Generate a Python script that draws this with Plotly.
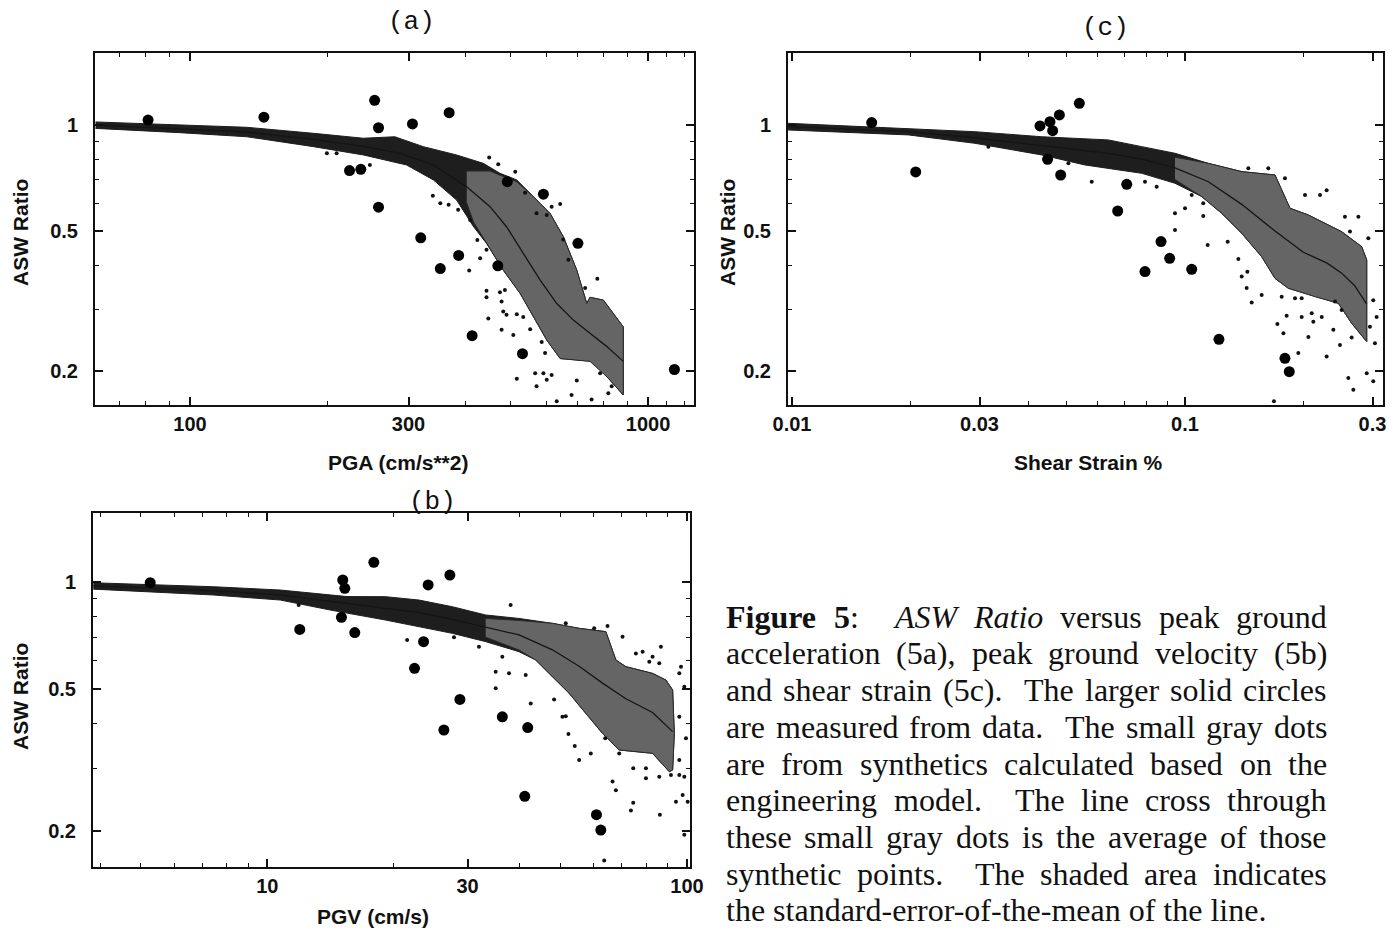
import re
import plotly.graph_objects as go

# ------------------------------------------------------------------ DATA
# Panel (a): ASW ratio vs PGA (cm/s**2)
pga_data_x = [81, 145, 253, 258, 223, 236, 258, 306, 368, 319, 352, 386, 493, 591, 470, 703, 413, 532, 1142]
pga_data_y = [1.033, 1.052, 1.175, 0.982, 0.742, 0.748, 0.584, 1.007, 1.084, 0.478, 0.391, 0.426, 0.690, 0.636, 0.398, 0.461, 0.252, 0.224, 0.202]

pga_syn_x = [339, 352, 367, 385, 409, 424, 444, 430, 407, 444, 444, 475, 487, 448, 479, 483, 491, 479, 508, 517,
             534, 553, 586, 596, 591, 567, 517, 571, 601, 616, 632, 681, 699, 753, 819, 833, 729, 775, 670, 653,
             643, 616, 601, 571, 539, 513, 471, 450, 786, 199, 209, 247]
pga_syn_y = [0.629, 0.599, 0.593, 0.574, 0.537, 0.471, 0.442, 0.418, 0.386, 0.338, 0.324, 0.335, 0.340, 0.282, 0.315,
             0.295, 0.289, 0.262, 0.253, 0.290, 0.285, 0.263, 0.242, 0.225, 0.197, 0.197, 0.190, 0.181, 0.189, 0.195,
             0.164, 0.171, 0.188, 0.166, 0.173, 0.181, 0.344, 0.366, 0.414, 0.473, 0.596, 0.586, 0.555, 0.561, 0.642,
             0.737, 0.773, 0.809, 0.197, 0.831, 0.831, 0.770]

pga_cloud_up_x = [62.2, 95, 133, 186, 239, 280, 323, 382, 437, 475, 517, 562, 611, 653, 699, 735, 747, 799, 883]
pga_cloud_up_y = [1.02, 1.0, 0.985, 0.947, 0.917, 0.926, 0.868, 0.822, 0.778, 0.729, 0.698, 0.626, 0.561, 0.482, 0.387, 0.311, 0.324, 0.318, 0.267]
pga_cloud_lo_x = [883, 812, 760, 699, 643, 601, 562, 526, 483, 444, 416, 382, 340, 297, 239, 186, 133, 95, 62.2]
pga_cloud_lo_y = [0.171, 0.193, 0.213, 0.215, 0.217, 0.245, 0.285, 0.332, 0.387, 0.461, 0.514, 0.612, 0.698, 0.770, 0.822, 0.868, 0.926, 0.951, 0.978]

pga_band_x = [402, 452, 475, 517, 562, 611, 653, 699, 735, 747, 799, 883, 883, 812, 747, 643, 601, 562, 526, 483, 444, 416, 402]
pga_band_y = [0.74, 0.74, 0.72, 0.69, 0.626, 0.561, 0.482, 0.387, 0.311, 0.324, 0.318, 0.267, 0.171, 0.193, 0.213, 0.217, 0.245, 0.285, 0.332, 0.387, 0.461, 0.53, 0.60]

pga_mean_x = [62.2, 95, 133, 186, 239, 287, 340, 402, 452, 491, 534, 581, 632, 687, 747, 812, 883]
pga_mean_y = [1.0, 0.975, 0.955, 0.91, 0.87, 0.83, 0.77, 0.668, 0.586, 0.514, 0.432, 0.363, 0.311, 0.279, 0.256, 0.235, 0.213]

# Panel (b): ASW ratio vs PGV (cm/s)
pgv_data_x = [5.26, 15.13, 15.3, 17.94, 15.02, 11.95, 16.16, 24.17, 27.23, 23.57, 22.43, 28.77, 26.35, 36.31, 41.74, 41.06, 60.86, 62.33]
pgv_data_y = [0.996, 1.013, 0.96, 1.136, 0.796, 0.736, 0.721, 0.981, 1.046, 0.68, 0.572, 0.468, 0.384, 0.418, 0.390, 0.250, 0.222, 0.201]

pgv_syn_x = [21.54, 27.85, 31.94, 36.31, 35.01, 37.66, 41.28, 35.01, 42.43, 48.24, 50.49, 51.42, 52.19, 54.03, 55.34,
             59.0, 63.86, 68.95, 74.46, 79.84, 79.84, 85.9, 91.58, 95.87, 98.54, 95.87, 99.45, 95.87, 98.54, 95.87,
             96.76, 67.7, 66.47, 74.46, 73.51, 86.18, 94.13, 97.66, 100.4, 98.54, 63.5, 75.56, 78.4, 82.8, 86.67,
             85.9, 81.32, 70.22, 64.67, 60.1, 51.42, 38.01, 11.88]
pgv_syn_y = [0.687, 0.699, 0.658, 0.617, 0.56, 0.554, 0.548, 0.503, 0.456, 0.468, 0.418, 0.42, 0.374, 0.346, 0.316,
             0.33, 0.364, 0.33, 0.30, 0.30, 0.281, 0.284, 0.287, 0.287, 0.284, 0.316, 0.364, 0.418, 0.508, 0.554,
             0.578, 0.26, 0.275, 0.24, 0.228, 0.222, 0.2415, 0.252, 0.2415, 0.195, 0.165, 0.63, 0.637, 0.617, 0.658,
             0.591, 0.597, 0.702, 0.752, 0.741, 0.7655, 0.862, 0.862]

pgv_cloud_up_x = [3.85, 7.44, 10.74, 15.49, 19.12, 22.97, 27.59, 33.14, 39.8, 47.8, 55.34, 64.07, 67.7, 71.52, 82.8, 89.1, 92.43, 93.29, 92.43]
pgv_cloud_up_y = [0.995, 0.97, 0.9495, 0.91, 0.9096, 0.89, 0.8525, 0.808, 0.79, 0.7655, 0.741, 0.7254, 0.6038, 0.5783, 0.5537, 0.5303, 0.4972, 0.3757, 0.2964]
pgv_cloud_lo_x = [90.75, 82.8, 68.95, 62.9, 57.4, 52.4, 47.8, 43.61, 39.8, 33.14, 27.59, 22.97, 19.12, 14.14, 10.74, 7.44, 3.85]
pgv_cloud_lo_y = [0.2932, 0.3302, 0.3374, 0.3757, 0.4276, 0.4866, 0.542, 0.6038, 0.6372, 0.68, 0.7175, 0.749, 0.782, 0.834, 0.89, 0.9194, 0.955]

pgv_band_x = [33.14, 39.8, 47.8, 55.34, 64.07, 67.7, 71.52, 82.8, 89.1, 92.43, 93.29, 92.43, 90.75, 82.8, 68.95, 62.9, 57.4, 52.4, 47.8, 43.61, 39.8, 33.14]
pgv_band_y = [0.79, 0.78, 0.7655, 0.741, 0.7254, 0.6038, 0.5783, 0.5537, 0.5303, 0.4972, 0.3757, 0.2964, 0.2932, 0.3302, 0.3374, 0.3757, 0.4276, 0.4866, 0.542, 0.6038, 0.644, 0.70]

pgv_mean_x = [3.85, 7.44, 10.74, 15.49, 19.12, 22.97, 27.59, 33.14, 39.8, 47.8, 55.34, 62.9, 71.52, 82.8, 92.43]
pgv_mean_y = [0.975, 0.945, 0.92, 0.87, 0.845, 0.82, 0.785, 0.745, 0.71, 0.645, 0.58, 0.52, 0.47, 0.43, 0.38]

# Panel (c): ASW ratio vs shear strain %
ss_data_x = [0.01595, 0.02064, 0.04276, 0.04533, 0.0479, 0.05384, 0.04605, 0.0447, 0.04827, 0.07107, 0.06741, 0.08689, 0.0914, 0.0791, 0.104, 0.122, 0.1796, 0.1842]
ss_data_y = [1.016, 0.7355, 0.9935, 1.022, 1.068, 1.152, 0.9636, 0.799, 0.721, 0.6783, 0.5697, 0.4663, 0.418, 0.3832, 0.389, 0.246, 0.2174, 0.1992]

ss_syn_x = [0.0579, 0.0791, 0.0847, 0.0943, 0.100, 0.104, 0.1113, 0.1113, 0.0943, 0.1142, 0.1284, 0.1367, 0.1394, 0.1441,
            0.1435, 0.1478, 0.1567, 0.1762, 0.1718, 0.178, 0.1814, 0.1905, 0.1981, 0.1981, 0.2101, 0.2121, 0.2228, 0.206,
            0.1942, 0.2408, 0.2503, 0.2385, 0.2479, 0.2655, 0.2293, 0.2603, 0.2681, 0.29, 0.3043, 0.3013, 0.1684, 0.202,
            0.2206, 0.2293, 0.2629, 0.2552, 0.2761, 0.2927, 0.3013, 0.3073, 0.2955, 0.1449, 0.1629, 0.1796, 0.0316, 0.0505]
ss_syn_y = [0.690, 0.690, 0.668, 0.561, 0.580, 0.6325, 0.599, 0.551, 0.503, 0.456, 0.466, 0.416, 0.371, 0.383, 0.344,
            0.313, 0.329, 0.325, 0.272, 0.256, 0.287, 0.322, 0.322, 0.285, 0.292, 0.276, 0.285, 0.250, 0.225, 0.315,
            0.298, 0.262, 0.237, 0.249, 0.220, 0.191, 0.177, 0.197, 0.240, 0.187, 0.164, 0.6325, 0.6325, 0.653, 0.498,
            0.549, 0.549, 0.477, 0.318, 0.285, 0.267, 0.753, 0.753, 0.706, 0.868, 0.778]

ss_cloud_up_x = [0.00977, 0.0198, 0.0292, 0.0432, 0.0525, 0.0638, 0.0776, 0.0943, 0.1147, 0.1394, 0.1694, 0.185, 0.206, 0.2503, 0.2815, 0.29]
ss_cloud_up_y = [1.011, 0.978, 0.957, 0.926, 0.916, 0.907, 0.868, 0.831, 0.778, 0.737, 0.721, 0.58, 0.555, 0.4977, 0.4512, 0.4135]
ss_cloud_lo_x = [0.29, 0.2655, 0.2456, 0.2142, 0.1832, 0.1694, 0.1567, 0.1394, 0.124, 0.1103, 0.0943, 0.0776, 0.0638, 0.0556, 0.0432, 0.0292, 0.0198, 0.00977]
ss_cloud_lo_y = [0.2424, 0.2733, 0.3114, 0.3253, 0.3436, 0.3667, 0.4227, 0.4924, 0.561, 0.626, 0.683, 0.729, 0.7532, 0.77, 0.822, 0.887, 0.937, 0.968]

ss_band_x = [0.0943, 0.1147, 0.1394, 0.1694, 0.185, 0.206, 0.2503, 0.2815, 0.29, 0.29, 0.2655, 0.2456, 0.2142, 0.1832, 0.1694, 0.1567, 0.1394, 0.124, 0.1103, 0.0943]
ss_band_y = [0.81, 0.778, 0.737, 0.721, 0.58, 0.555, 0.4977, 0.4512, 0.4135, 0.2424, 0.2733, 0.3114, 0.3253, 0.3436, 0.3667, 0.4227, 0.4924, 0.561, 0.626, 0.70]

ss_mean_x = [0.00977, 0.0198, 0.0292, 0.0432, 0.0525, 0.0638, 0.0776, 0.0943, 0.1147, 0.1394, 0.1694, 0.2, 0.23, 0.25, 0.27, 0.29]
ss_mean_y = [0.99, 0.958, 0.92, 0.873, 0.85, 0.83, 0.80, 0.755, 0.69, 0.595, 0.50, 0.435, 0.405, 0.38, 0.35, 0.31]

# Tick labels
pga_ticks = [100, 300, 1000]
pga_ticktext = ["100", "300", "1000"]
pga_minor = [70, 80, 90, 200, 400, 500, 600, 700, 800, 900, 1100, 1200]
pgv_ticks = [10, 30, 100]
pgv_ticktext = ["10", "30", "100"]
pgv_minor = [4, 5, 6, 7, 8, 9, 20, 40, 50, 60, 70, 80, 90]
ss_ticks = [0.01, 0.03, 0.1, 0.3]
ss_ticktext = ["0.01", "0.03", "0.1", "0.3"]
ss_minor = [0.02, 0.04, 0.05, 0.06, 0.07, 0.08, 0.09, 0.2]
ratio_ticks = [0.2, 0.5, 1]
ratio_ticktext = ["0.2", "0.5", "1"]
ratio_minor = [0.3, 0.4, 0.6, 0.7, 0.8, 0.9]

caption_lines = [
    "<b>Figure</b> <b>5</b>:  <i>ASW</i> <i>Ratio</i> versus peak ground",
    "acceleration (5a), peak ground velocity (5b)",
    "and shear strain (5c).  The larger solid circles",
    "are measured from data.  The small gray dots",
    "are from synthetics calculated based on the",
    "engineering model.  The line cross through",
    "these small gray dots is the average of those",
    "synthetic points.  The shaded area indicates",
    "the standard-error-of-the-mean of the line.",
]

# ------------------------------------------------------------------ STYLE / LAYOUT
W, H = 1398, 936
INK = "#111111"
SANS = "Liberation Sans, Arial, sans-serif"
SERIF = "Liberation Serif, Times New Roman, serif"
MONO = "Liberation Mono, Courier New, monospace"


def px(x):
    return x / W


def py(y):
    return 1 - y / H


fig = go.Figure()


def add_panel(xa, ya, cup_x, cup_y, clo_x, clo_y, band_x, band_y, mean_x, mean_y, syn_x, syn_y, dat_x, dat_y):
    fig.add_trace(go.Scatter(x=cup_x + clo_x, y=cup_y + clo_y, xaxis=xa, yaxis=ya, mode="lines",
                             fill="toself", fillcolor="#1e1e1e", line=dict(width=1, color="#1e1e1e"),
                             hoverinfo="skip"))
    fig.add_trace(go.Scatter(x=band_x, y=band_y, xaxis=xa, yaxis=ya, mode="lines",
                             fill="toself", fillcolor="#656565", line=dict(width=1, color="#2a2a2a"),
                             hoverinfo="skip"))
    fig.add_trace(go.Scatter(x=mean_x, y=mean_y, xaxis=xa, yaxis=ya, mode="lines",
                             line=dict(width=1.3, color="#151515"), hoverinfo="skip"))
    fig.add_trace(go.Scatter(x=syn_x, y=syn_y, xaxis=xa, yaxis=ya, mode="markers",
                             marker=dict(size=4, color="#111111"), hoverinfo="skip"))
    fig.add_trace(go.Scatter(x=dat_x, y=dat_y, xaxis=xa, yaxis=ya, mode="markers",
                             marker=dict(size=11, color="#000000"), hoverinfo="skip"))


add_panel("x", "y", pga_cloud_up_x, pga_cloud_up_y, pga_cloud_lo_x, pga_cloud_lo_y, pga_band_x, pga_band_y,
          pga_mean_x, pga_mean_y, pga_syn_x, pga_syn_y, pga_data_x, pga_data_y)
add_panel("x2", "y2", ss_cloud_up_x, ss_cloud_up_y, ss_cloud_lo_x, ss_cloud_lo_y, ss_band_x, ss_band_y,
          ss_mean_x, ss_mean_y, ss_syn_x, ss_syn_y, ss_data_x, ss_data_y)
add_panel("x3", "y3", pgv_cloud_up_x, pgv_cloud_up_y, pgv_cloud_lo_x, pgv_cloud_lo_y, pgv_band_x, pgv_band_y,
          pgv_mean_x, pgv_mean_y, pgv_syn_x, pgv_syn_y, pgv_data_x, pgv_data_y)


def axis(domain, rng, tv, tt, minor, anchor, standoff):
    return dict(type="log", domain=domain, range=rng, anchor=anchor, automargin=False,
                tickmode="array", tickvals=tv, ticktext=tt,
                ticks="inside", ticklen=8, tickwidth=1.5, tickcolor=INK,
                showline=True, linewidth=2, linecolor=INK, mirror="ticks",
                showgrid=False, zeroline=False, ticklabelstandoff=standoff,
                tickfont=dict(family=SANS, size=20, color=INK, weight="bold"),
                minor=dict(tickmode="array", tickvals=minor, ticks="inside", ticklen=4,
                           tickwidth=1, tickcolor=INK, showgrid=False))


ya_dom = [py(405), py(53)]
yb_dom = [py(866.7), py(513.3)]
layout = dict(
    width=W, height=H, autosize=False,
    margin=dict(l=0, r=0, t=0, b=0, pad=0, autoexpand=False),
    paper_bgcolor="white", plot_bgcolor="white",
    showlegend=False, hovermode=False,
    xaxis=axis([px(95), px(694)], [1.7926, 3.1004], pga_ticks, pga_ticktext, pga_minor, "y", 0),
    yaxis=axis(ya_dom, [-0.7955, 0.2045], ratio_ticks, ratio_ticktext, ratio_minor, "x", 11),
    xaxis2=axis([px(788), px(1383)], [-2.0102, -0.4962], ss_ticks, ss_ticktext, ss_minor, "y2", 0),
    yaxis2=axis(ya_dom, [-0.7955, 0.2045], ratio_ticks, ratio_ticktext, ratio_minor, "x2", 11),
    xaxis3=axis([px(93), px(690)], [0.5847, 2.0072], pgv_ticks, pgv_ticktext, pgv_minor, "y3", 0),
    yaxis3=axis(yb_dom, [-0.7997, 0.193], ratio_ticks, ratio_ticktext, ratio_minor, "x3", 11),
)
fig.update_layout(**layout)

ann = []


def label(text, x, y, size, family=SANS, angle=0, xanchor="center"):
    ann.append(dict(text=text, x=px(x), y=py(y), xref="paper", yref="paper", showarrow=False,
                    xanchor=xanchor, yanchor="middle", textangle=angle,
                    font=dict(family=family, size=size, color=INK)))


label("(a)", 412, 22, 26, MONO)
label("(c)", 1105, 28, 26, MONO)
label("(b)", 432, 502, 26, MONO)
label("<b>ASW Ratio</b>", 20, 233, 21, angle=-90)
label("<b>ASW Ratio</b>", 727, 233, 21, angle=-90)
label("<b>ASW Ratio</b>", 20, 697, 21, angle=-90)
label("<b>PGA (cm/s**2)</b>", 398, 462, 21)
label("<b>Shear Strain %</b>", 1088, 462, 21)
label("<b>PGV (cm/s)</b>", 373, 916, 21)

# --- justified caption (Times metrics, 1/1000 em)
TR = {' ': 250, '(': 333, ')': 333, ',': 250, '-': 333, '.': 250, ':': 278, '%': 833,
      'A': 722, 'B': 667, 'C': 667, 'D': 722, 'E': 611, 'F': 556, 'G': 722, 'H': 722, 'I': 333, 'J': 389,
      'K': 722, 'L': 611, 'M': 889, 'N': 722, 'O': 722, 'P': 556, 'Q': 722, 'R': 667, 'S': 556, 'T': 611,
      'U': 722, 'V': 722, 'W': 944, 'X': 722, 'Y': 722, 'Z': 611,
      'a': 444, 'b': 500, 'c': 444, 'd': 500, 'e': 444, 'f': 333, 'g': 500, 'h': 500, 'i': 278, 'j': 278,
      'k': 500, 'l': 278, 'm': 778, 'n': 500, 'o': 500, 'p': 500, 'q': 500, 'r': 333, 's': 389, 't': 278,
      'u': 500, 'v': 500, 'w': 722, 'x': 500, 'y': 500, 'z': 444}
TB = {'F': 611, 'i': 278, 'g': 500, 'u': 556, 'r': 444, 'e': 444, ':': 333}
TI = {'A': 611, 'S': 500, 'W': 833, 'R': 611, 'a': 500, 't': 278, 'i': 278, 'o': 500}


def word_width(w, size):
    tot = 0
    for m in re.finditer(r'<(b|i)>(.*?)</\1>|([^<]+)', w):
        if m.group(1) == 'b':
            tot += sum(TB.get(c, 500) for c in m.group(2))
        elif m.group(1) == 'i':
            tot += sum(TI.get(c, 500) for c in m.group(2))
        else:
            tot += sum(TR.get(c, 500) for c in m.group(3))
    return tot * size / 1000


CAP_SIZE = 32
CAP_X0, CAP_X1 = 724, 1325
CAP_Y0, CAP_DY = 616.7, 36.7
for i, line in enumerate(caption_lines):
    yc = CAP_Y0 + i * CAP_DY
    if i == len(caption_lines) - 1:
        label(line, CAP_X0, yc, CAP_SIZE, SERIF, xanchor="left")
        continue
    tokens = re.split(r'( +)', line)
    words = tokens[0::2]
    spaces = [len(s) for s in tokens[1::2]]
    wsum = sum(word_width(w, CAP_SIZE) for w in words)
    unit = (CAP_X1 - CAP_X0 - wsum) / sum(spaces)
    x = CAP_X0
    for k, w in enumerate(words):
        label(w, x, yc, CAP_SIZE, SERIF, xanchor="left")
        x += word_width(w, CAP_SIZE)
        if k < len(spaces):
            x += unit * spaces[k]

fig.update_layout(annotations=ann)
fig.write_html("out.html")
